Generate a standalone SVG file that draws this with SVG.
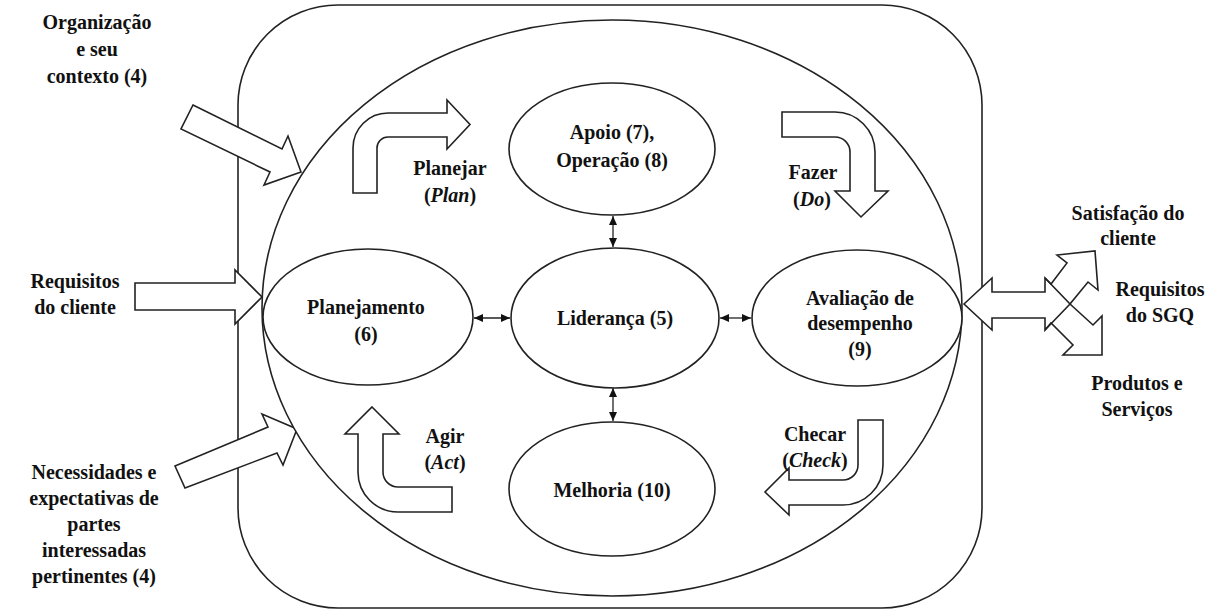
<svg xmlns="http://www.w3.org/2000/svg" width="1213" height="610" viewBox="0 0 1213 610" font-family="'Liberation Serif', 'Times New Roman', serif">
<style>
.s{fill:#fff;stroke:#222;stroke-width:1.6}
.ln{fill:none;stroke:#222;stroke-width:1.6}
.c{stroke:#222;stroke-width:1.3;fill:none}
text{font-family:"Liberation Serif","Times New Roman",serif;font-weight:bold;font-size:20px;fill:#111;text-anchor:middle}
</style>
<defs>
<marker id="ah" markerUnits="userSpaceOnUse" markerWidth="10" markerHeight="10" viewBox="0 0 10 10" refX="9" refY="5" orient="auto-start-reverse">
<path d="M0,1 L9,5 L0,9 Z" fill="#111"/>
</marker>
</defs>
<rect id="frame" x="238" y="5" width="744" height="603" rx="100" ry="100" class="s"/>
<g id="left-inputs">
<polygon class="s" points="193,105 282,149 288,136 301,172 264,185 270,172 181,129"/>
<polygon class="s" points="135,283 235,283 235,270 262,297 235,324 235,310 135,310"/>
<polygon class="s" points="175,466 268,427 262,414 297,429 283,465 277,453 185,488"/>
</g>
<ellipse id="big" cx="612" cy="308" rx="350" ry="288" class="s"/>
<g id="right-outputs">
<polygon class="s" points="964,304 992,278 992,292 1045,292 1045,278 1051,284 1067,263 1057,255 1095,251 1098,290 1088,282 1070,304 1093,325 1102,316 1102,355 1063,355 1073,345 1051,323 1045,330 1045,318 992,318 992,330"/>
<path class="ln" d="M1045,278 L1070,304 L1045,330"/>
</g>
<g id="cycle-arrows">
<path class="s" d="M353,193 V148 A35,35 0 0 1 388,113 H447 V100 L470,124.5 L447,149 V137 H388 A11,11 0 0 0 377,148 V193 Z"/>
<path class="s" d="M782,112 H835 A40,40 0 0 1 875,152 V191 H888 L861,217 L835,191 H850 V152 A15,15 0 0 0 835,137 H782 Z"/>
<path class="s" d="M372,407 L399,434 H383 V472 A15,15 0 0 0 398,487 H452 V512 H398 A40,40 0 0 1 358,472 V434 H345 Z"/>
<path class="s" d="M858,420 H883 V465 A40,40 0 0 1 843,505 H789 V515 L765,492 L789,468 V480 H843 A15,15 0 0 0 858,465 Z"/>
</g>
<g id="connectors">
<line class="c" x1="613" y1="216" x2="613" y2="247" marker-start="url(#ah)" marker-end="url(#ah)"/>
<line class="c" x1="613" y1="388" x2="613" y2="421" marker-start="url(#ah)" marker-end="url(#ah)"/>
<line class="c" x1="474" y1="318" x2="510" y2="318" marker-start="url(#ah)" marker-end="url(#ah)"/>
<line class="c" x1="720" y1="318" x2="751" y2="318" marker-start="url(#ah)" marker-end="url(#ah)"/>
</g>
<g id="apoio">
<ellipse cx="612" cy="149" rx="103" ry="66" class="s"/>
<text x="612" y="139">Apoio (7),</text>
<text x="612" y="167">Operação (8)</text>
</g>
<g id="planejamento">
<ellipse cx="368" cy="317" rx="105" ry="68" class="s"/>
<text x="366" y="314">Planejamento</text>
<text x="366" y="341">(6)</text>
</g>
<g id="lideranca">
<ellipse cx="615" cy="318" rx="104" ry="70" class="s"/>
<text x="615" y="325">Liderança (5)</text>
</g>
<g id="avaliacao">
<ellipse cx="857" cy="318" rx="105" ry="68" class="s"/>
<text x="860" y="305">Avaliação de</text>
<text x="860" y="330">desempenho</text>
<text x="860" y="356">(9)</text>
</g>
<g id="melhoria">
<ellipse cx="612" cy="489" rx="103" ry="67" class="s"/>
<text x="612" y="497">Melhoria (10)</text>
</g>
<g id="labels">
<text x="97" y="29">Organização</text>
<text x="97" y="56">e seu</text>
<text x="97" y="83">contexto (4)</text>
<text x="75" y="288">Requisitos</text>
<text x="75" y="314">do cliente</text>
<text x="94" y="479">Necessidades e</text>
<text x="94" y="505">expectativas de</text>
<text x="94" y="531">partes</text>
<text x="94" y="557">interessadas</text>
<text x="94" y="583">pertinentes (4)</text>
<text x="450" y="175">Planejar</text>
<text x="450" y="202">(<tspan font-style="italic">Plan</tspan>)</text>
<text x="813" y="179">Fazer</text>
<text x="812" y="206">(<tspan font-style="italic">Do</tspan>)</text>
<text x="445" y="443">Agir</text>
<text x="445" y="469">(<tspan font-style="italic">Act</tspan>)</text>
<text x="815" y="441">Checar</text>
<text x="815" y="467">(<tspan font-style="italic">Check</tspan>)</text>
<text x="1128" y="220">Satisfação do</text>
<text x="1128" y="245">cliente</text>
<text x="1160" y="296">Requisitos</text>
<text x="1160" y="322">do SGQ</text>
<text x="1137" y="390">Produtos e</text>
<text x="1137" y="416">Serviços</text>
</g>
</svg>
